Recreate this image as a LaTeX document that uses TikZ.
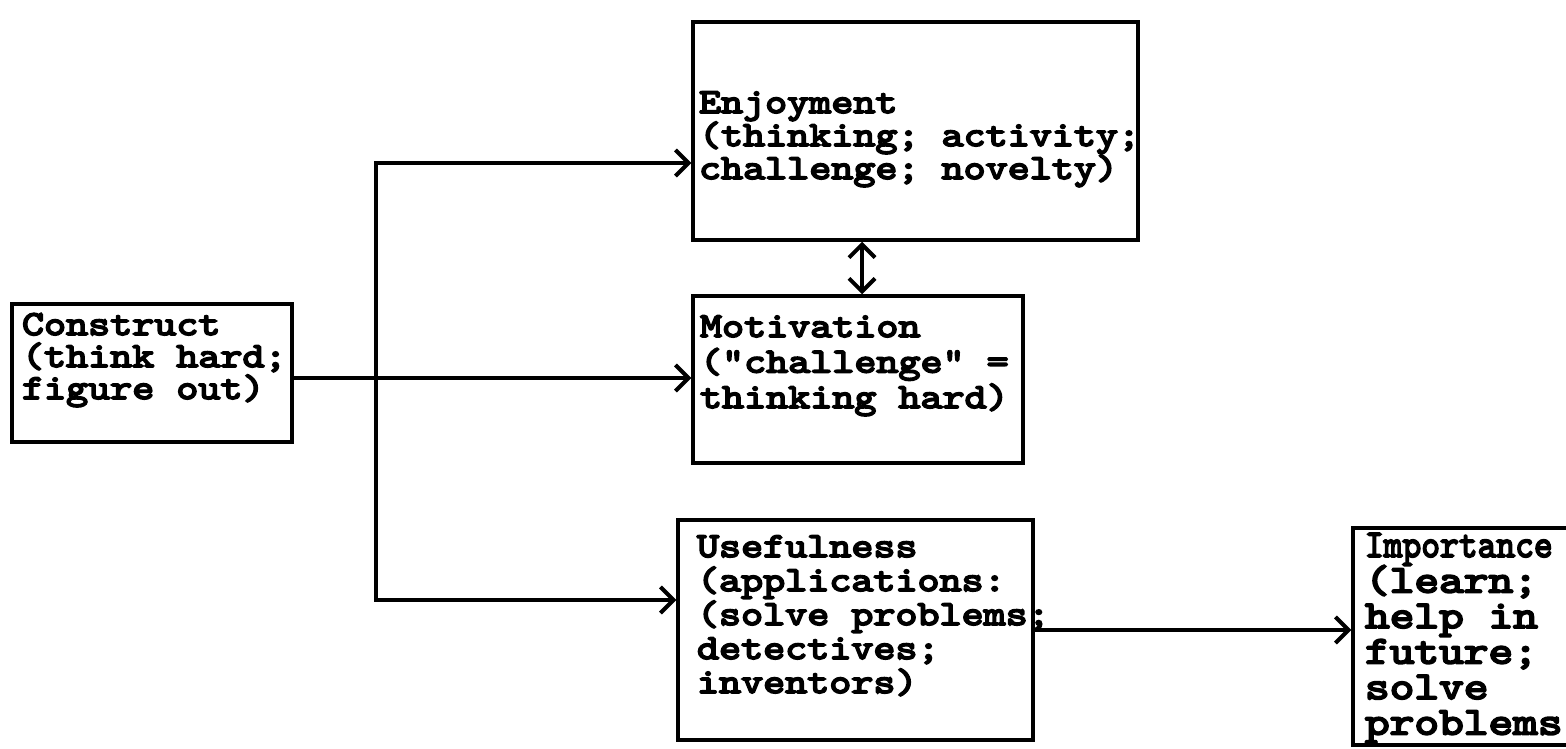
\documentclass[tikz,border=0pt]{standalone}
\usepackage{fontspec}
\usepackage{graphicx}
\usetikzlibrary{arrows.meta}
\newfontfamily\typer{lmmono10-regular.otf}[FakeBold=5, FakeStretch=1.2]

\begin{document}
\lineskiplimit=-100pt
\begin{tikzpicture} [x = 1pt, y = -1pt, line width = 4pt, >={Straight Barb[length=13pt,width=26pt]},
		box/.style = {draw, rectangle, inner sep = 0pt, line width = 3.5pt},
		txt/.style = {anchor = base west, align = left, inner sep = 0pt,
			font = {\typer\fontsize{35}{#1}\selectfont}}]
		\useasboundingbox (0,0) rectangle (1566,749);
		\fill [white] (0,0) rectangle (1566,749);
		% boxes
		\node [box, minimum width = 280pt, minimum height = 138pt] (cons) at (152,373) {};
		\node [box, minimum width = 445pt, minimum height = 218pt] (enj) at (915.5,131) {};
		\node [box, minimum width = 330pt, minimum height = 167pt] (mot) at (858,379.5) {};
		\node [box, minimum width = 355pt, minimum height = 220pt] (use) at (855.5,630) {};
		\node [box, minimum width = 267pt, minimum height = 217pt] (imp) at (1486.5,636.5) {};
		% texts (anchored at the last line)
		\node [txt = 32] (constext) at (20,399) {Construct\\(think hard;\\figure out)};
		\node [txt = 33] (enjtext) at (697,179) {Enjoyment\\(thinking; activity;\\challenge; novelty)};
		\node [txt = 35.5] (mottext) at (698,408) {Motivation\\("challenge" =\\thinking hard)};
		\node [txt = 34] (usetext) at (695,693) {Usefulness\\(applications:\\(solve problems;\\detectives;\\inventors)};
		\node [txt = 35.5, font = {\typer\fontsize{39.2}{35.5}\selectfont}] (imptext) at (1363,734.5)
			{\scalebox{0.76}[1]{Importance}\\(learn;\\help in\\future;\\solve\\problems};
		% arrows
		\coordinate (bustop) at (376,163);
		\coordinate (busbot) at (376,600);
		\coordinate (mid) at (376,378);
		\coordinate (link) at (862,0);
		\coordinate (out) at (0,630);
		\draw [<->] (bustop -| enj.west) -- (bustop) -- (busbot) -- (busbot -| use.west);
		\draw [->] (mid -| cons.east) -- (mid -| mot.west);
		\draw [<->] (link |- enj.south) -- (link |- mot.north);
		\draw [->] (out -| use.east) -- (out -| imp.west);
	\end{tikzpicture}
\end{document}
